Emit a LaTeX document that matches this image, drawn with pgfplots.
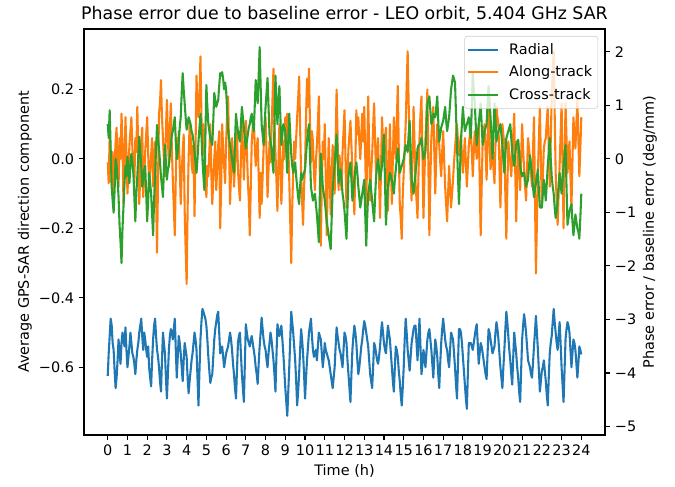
\documentclass[border=0pt]{standalone}
\usepackage{fontspec}
\setmainfont{DejaVu Sans}
\usepackage{pgfplots}
\usepackage{pgfplotstable}
\pgfplotsset{compat=1.18}

\definecolor{c0}{HTML}{1F77B4}
\definecolor{c1}{HTML}{FF7F0E}
\definecolor{c2}{HTML}{2CA02C}
\definecolor{legframe}{HTML}{CCCCCC}

% t (h), radial, along-track, cross-track components
\pgfplotstableread{
t radial along cross
0.0 -0.625 -0.01 0.10
0.05 -0.56 -0.07 0.06
0.1 -0.51 0.07 0.14
0.15 -0.46 0.01 0.03
0.2 -0.478 -0.075 -0.08
0.25 -0.53 0.02 -0.12
0.3 -0.55 -0.10 -0.155
0.35 -0.61 -0.02 -0.09
0.4 -0.66 0.05 0.00
0.45 -0.63 0.09 -0.02
0.5 -0.58 -0.04 -0.06
0.55 -0.52 -0.08 -0.11
0.6 -0.56 0.06 -0.19
0.65 -0.59 0.00 -0.24
0.7 -0.53 0.13 -0.30
0.75 -0.50 0.04 -0.20
0.8 -0.52 -0.13 -0.137
0.85 -0.54 -0.02 -0.07
0.9 -0.485 0.12 -0.02
0.95 -0.55 0.02 -0.05
1.0 -0.60 -0.10 0.006
1.05 -0.57 -0.04 -0.03
1.1 -0.54 0.04 -0.07
1.15 -0.50 0.08 -0.02
1.2 -0.53 0.12 0.015
1.25 -0.56 0.03 -0.01
1.3 -0.57 -0.02 -0.04
1.35 -0.59 -0.07 -0.11
1.4 -0.62 0.06 -0.18
1.45 -0.58 0.02 -0.10
1.5 -0.55 0.15 -0.05
1.55 -0.53 0.02 0.01
1.6 -0.50 -0.13 0.064
1.65 -0.48 -0.04 0.02
1.7 -0.46 0.05 -0.02
1.75 -0.51 0.09 -0.08
1.8 -0.55 -0.11 -0.06
1.85 -0.50 -0.05 -0.03
1.9 -0.52 0.02 -0.02
1.95 -0.55 0.07 -0.10
2.0 -0.57 0.12 -0.18
2.05 -0.54 0.02 -0.12
2.1 -0.60 -0.09 -0.04
2.15 -0.63 -0.03 -0.07
2.2 -0.655 0.01 -0.10
2.25 -0.58 0.06 -0.16
2.3 -0.52 -0.08 -0.22
2.35 -0.48 -0.02 -0.12
2.4 -0.46 0.05 -0.05
2.45 -0.51 -0.10 0.03
2.5 -0.55 -0.27 0.098
2.55 -0.57 -0.06 0.06
2.6 -0.60 0.13 0.03
2.65 -0.64 0.16 -0.01
2.7 -0.67 0.227 -0.05
2.75 -0.58 0.12 -0.08
2.8 -0.50 0.06 -0.11
2.85 -0.53 0.00 -0.03
2.9 -0.56 -0.05 0.04
2.95 -0.63 0.08 -0.01
3.0 -0.69 0.17 -0.06
3.05 -0.62 0.06 -0.03
3.1 -0.55 -0.02 -0.02
3.15 -0.51 0.09 0.01
3.2 -0.49 0.16 0.04
3.25 -0.50 0.03 0.07
3.3 -0.52 -0.06 0.08
3.35 -0.49 -0.14 0.10
3.4 -0.46 -0.22 0.12
3.45 -0.55 -0.05 0.05
3.5 -0.63 0.06 0.00
3.55 -0.57 0.00 0.02
3.6 -0.51 0.08 0.05
3.65 -0.53 -0.02 0.09
3.7 -0.56 -0.13 0.12
3.75 -0.60 -0.04 0.19
3.8 -0.64 0.02 0.247
3.85 -0.58 0.07 0.20
3.9 -0.53 -0.15 0.16
3.95 -0.55 -0.26 0.12
4.0 -0.57 -0.36 0.084
4.05 -0.63 -0.14 0.10
4.1 -0.675 0.00 0.12
4.15 -0.64 0.10 0.11
4.2 -0.61 0.07 0.10
4.25 -0.58 -0.01 0.08
4.3 -0.56 -0.04 0.07
4.35 -0.53 0.04 0.05
4.4 -0.50 -0.165 0.02
4.45 -0.52 0.03 -0.01
4.5 -0.55 0.24 -0.04
4.55 -0.63 0.15 0.00
4.6 -0.71 0.12 0.05
4.65 -0.61 0.18 0.09
4.7 -0.52 0.295 0.13
4.75 -0.47 0.12 0.07
4.8 -0.432 0.01 0.00
4.85 -0.44 0.10 -0.05
4.9 -0.45 0.06 -0.09
4.95 -0.46 -0.04 0.06
5.0 -0.48 -0.11 0.213
5.05 -0.52 -0.02 0.15
5.1 -0.57 -0.05 0.10
5.15 -0.61 0.02 0.08
5.2 -0.645 0.10 0.06
5.25 -0.63 -0.04 0.05
5.3 -0.62 -0.13 0.04
5.35 -0.57 -0.06 0.11
5.4 -0.52 0.00 0.19
5.45 -0.49 0.05 0.17
5.5 -0.47 -0.09 0.15
5.55 -0.45 -0.03 0.16
5.6 -0.44 0.04 0.17
5.65 -0.50 0.08 0.21
5.7 -0.56 -0.20 0.247
5.75 -0.55 -0.08 0.24
5.8 -0.54 0.10 0.25
5.85 -0.57 0.03 0.23
5.9 -0.60 -0.02 0.20
5.95 -0.58 -0.07 0.22
6.0 -0.56 0.05 0.20
6.05 -0.55 0.12 0.14
6.1 -0.54 0.18 0.08
6.15 -0.52 0.03 0.06
6.2 -0.50 -0.13 0.04
6.25 -0.52 -0.04 0.02
6.3 -0.55 0.06 0.00
6.35 -0.59 0.01 -0.02
6.4 -0.62 -0.08 -0.04
6.45 -0.66 -0.02 0.05
6.5 -0.69 0.04 0.13
6.55 -0.61 0.08 0.10
6.6 -0.53 -0.03 0.08
6.65 -0.51 -0.08 0.06
6.7 -0.50 -0.12 0.05
6.75 -0.56 0.00 0.10
6.8 -0.62 0.10 0.15
6.85 -0.66 0.04 0.12
6.9 -0.70 -0.06 0.09
6.95 -0.59 0.03 0.06
7.0 -0.476 0.11 0.03
7.05 -0.50 0.03 0.05
7.1 -0.52 -0.06 0.07
7.15 -0.53 -0.12 0.09
7.2 -0.54 -0.22 0.10
7.25 -0.52 -0.08 0.12
7.3 -0.51 0.05 0.13
7.35 -0.53 0.09 0.10
7.4 -0.55 0.12 0.08
7.45 -0.57 0.04 0.15
7.5 -0.60 -0.02 0.227
7.55 -0.62 0.03 0.19
7.6 -0.648 0.06 0.16
7.65 -0.59 -0.05 0.24
7.7 -0.54 -0.17 0.322
7.75 -0.50 -0.04 0.21
7.8 -0.457 -0.13 0.10
7.85 -0.49 -0.05 0.07
7.9 -0.52 0.03 0.04
7.95 -0.54 0.08 0.10
8.0 -0.55 0.12 0.15
8.05 -0.58 0.01 0.19
8.1 -0.60 -0.11 0.233
8.15 -0.56 -0.03 0.15
8.2 -0.53 0.05 0.07
8.25 -0.50 -0.01 0.05
8.3 -0.52 0.08 0.03
8.35 -0.55 0.17 -0.01
8.4 -0.58 0.26 -0.04
8.45 -0.62 0.10 0.10
8.5 -0.67 0.02 0.24
8.55 -0.57 -0.06 0.17
8.6 -0.476 -0.15 0.10
8.65 -0.49 -0.02 0.16
8.7 -0.51 0.10 0.21
8.75 -0.50 -0.01 0.12
8.8 -0.48 -0.13 0.04
8.85 -0.52 -0.04 0.07
8.9 -0.56 0.05 0.10
8.95 -0.61 0.00 0.09
9.0 -0.66 0.12 0.08
9.05 -0.70 0.05 0.02
9.1 -0.74 0.13 -0.04
9.15 -0.67 0.04 0.05
9.2 -0.60 -0.06 0.13
9.25 -0.52 -0.18 0.07
9.3 -0.44 -0.30 0.015
9.35 -0.47 -0.14 -0.02
9.4 -0.50 -0.04 -0.04
9.45 -0.54 0.05 -0.02
9.5 -0.58 0.00 -0.01
9.55 -0.64 0.06 -0.05
9.6 -0.71 0.12 -0.08
9.65 -0.67 0.17 -0.11
9.7 -0.62 0.237 -0.13
9.75 -0.55 0.09 -0.08
9.8 -0.49 -0.04 -0.04
9.85 -0.52 -0.12 -0.06
9.9 -0.56 -0.19 -0.05
9.95 -0.62 -0.08 -0.04
10.0 -0.69 -0.02 -0.03
10.05 -0.63 0.12 0.01
10.1 -0.58 0.23 0.05
10.15 -0.54 0.15 0.08
10.2 -0.50 0.26 0.10
10.25 -0.48 0.10 0.01
10.3 -0.46 -0.01 -0.08
10.35 -0.51 0.08 -0.10
10.4 -0.55 0.05 -0.12
10.45 -0.57 -0.04 -0.11
10.5 -0.56 -0.09 -0.10
10.55 -0.55 -0.01 -0.13
10.6 -0.58 0.04 -0.16
10.65 -0.54 0.10 -0.20
10.7 -0.50 0.18 -0.24
10.75 -0.51 -0.05 -0.10
10.8 -0.52 -0.25 0.015
10.85 -0.56 -0.07 -0.03
10.9 -0.60 0.05 -0.08
10.95 -0.57 0.00 -0.10
11.0 -0.53 0.10 -0.12
11.05 -0.55 -0.06 -0.15
11.1 -0.56 -0.22 -0.18
11.15 -0.57 -0.07 -0.20
11.2 -0.58 0.06 -0.22
11.25 -0.60 -0.05 -0.24
11.3 -0.62 -0.16 -0.26
11.35 -0.64 -0.05 -0.17
11.4 -0.66 0.04 -0.09
11.45 -0.63 -0.03 -0.05
11.5 -0.60 -0.10 -0.02
11.55 -0.54 0.05 0.03
11.6 -0.485 0.20 0.07
11.65 -0.51 0.06 0.00
11.7 -0.53 -0.09 -0.07
11.75 -0.55 0.01 -0.05
11.8 -0.56 -0.04 -0.03
11.85 -0.58 -0.09 -0.06
11.9 -0.60 0.02 -0.10
11.95 -0.55 0.08 -0.12
12.0 -0.50 0.14 -0.15
12.05 -0.51 0.00 -0.19
12.1 -0.53 -0.14 -0.23
12.15 -0.58 -0.05 -0.14
12.2 -0.62 0.03 -0.05
12.25 -0.66 0.07 -0.03
12.3 -0.70 0.11 -0.01
12.35 -0.62 0.04 -0.06
12.4 -0.55 -0.03 -0.12
12.45 -0.51 -0.10 -0.09
12.5 -0.48 -0.16 -0.06
12.55 -0.50 -0.01 -0.03
12.6 -0.53 0.14 -0.01
12.65 -0.58 0.07 -0.04
12.7 -0.62 0.12 -0.08
12.75 -0.60 0.05 -0.11
12.8 -0.57 0.00 -0.14
12.85 -0.54 0.07 -0.12
12.9 -0.52 0.13 -0.10
12.95 -0.49 0.05 -0.08
13.0 -0.467 0.15 -0.06
13.05 -0.48 0.01 -0.16
13.1 -0.50 -0.14 -0.25
13.15 -0.52 0.02 -0.17
13.2 -0.54 0.18 -0.10
13.25 -0.58 0.03 -0.08
13.3 -0.62 -0.12 -0.06
13.35 -0.64 -0.04 -0.09
13.4 -0.66 0.01 -0.12
13.45 -0.60 0.09 -0.15
13.5 -0.53 0.16 -0.18
13.55 -0.54 0.05 -0.11
13.6 -0.56 -0.04 -0.05
13.65 -0.58 0.02 -0.02
13.7 -0.59 0.06 0.00
13.75 -0.57 -0.06 -0.03
13.8 -0.54 -0.17 -0.06
13.85 -0.50 -0.03 -0.04
13.9 -0.47 0.12 -0.02
13.95 -0.50 0.05 0.03
14.0 -0.53 0.01 0.07
14.05 -0.55 0.06 -0.06
14.1 -0.56 0.09 -0.19
14.15 -0.52 -0.04 -0.13
14.2 -0.48 -0.15 -0.08
14.25 -0.50 -0.02 -0.06
14.3 -0.52 0.10 -0.04
14.35 -0.56 -0.02 -0.05
14.4 -0.60 -0.13 -0.06
14.45 -0.64 0.00 -0.08
14.5 -0.67 0.12 -0.10
14.55 -0.60 0.05 -0.06
14.6 -0.54 0.00 -0.03
14.65 -0.55 0.11 0.00
14.7 -0.57 0.21 0.03
14.75 -0.61 0.03 0.00
14.8 -0.64 -0.13 -0.04
14.85 -0.68 -0.17 -0.03
14.9 -0.71 -0.23 -0.02
14.95 -0.66 -0.11 -0.01
15.0 -0.60 -0.04 0.00
15.05 -0.52 0.03 0.02
15.1 -0.46 0.10 0.04
15.15 -0.50 0.21 0.03
15.2 -0.55 0.31 0.02
15.25 -0.58 0.16 0.07
15.3 -0.61 0.05 0.11
15.35 -0.57 -0.05 0.03
15.4 -0.53 -0.12 -0.06
15.45 -0.51 0.02 -0.08
15.5 -0.49 0.15 -0.10
15.55 -0.48 0.04 -0.07
15.6 -0.48 -0.07 -0.04
15.65 -0.53 -0.12 -0.01
15.7 -0.58 -0.17 0.03
15.75 -0.52 -0.04 0.04
15.8 -0.46 0.06 0.04
15.85 -0.54 0.13 0.05
15.9 -0.62 0.18 0.06
15.95 -0.59 0.01 0.03
16.0 -0.55 -0.17 0.00
16.05 -0.57 -0.05 0.01
16.1 -0.60 0.05 0.02
16.15 -0.56 0.13 0.09
16.2 -0.52 0.20 0.16
16.25 -0.50 -0.02 0.17
16.3 -0.49 -0.22 0.18
16.35 -0.52 -0.06 0.14
16.4 -0.55 0.06 0.10
16.45 -0.59 0.11 0.11
16.5 -0.63 0.15 0.13
16.55 -0.57 0.02 0.12
16.6 -0.52 -0.10 0.12
16.65 -0.54 0.01 0.15
16.7 -0.57 0.10 0.18
16.75 -0.62 0.07 0.11
16.8 -0.66 0.04 0.05
16.85 -0.59 -0.01 0.07
16.9 -0.53 -0.05 0.09
16.95 -0.49 0.02 0.10
17.0 -0.46 0.08 0.11
17.05 -0.49 0.00 0.13
17.1 -0.52 -0.08 0.15
17.15 -0.54 -0.13 0.11
17.2 -0.55 -0.18 0.08
17.25 -0.58 -0.10 0.10
17.3 -0.60 -0.02 0.12
17.35 -0.55 -0.08 0.16
17.4 -0.50 -0.14 0.20
17.45 -0.51 -0.10 0.22
17.5 -0.52 -0.06 0.24
17.55 -0.56 -0.01 0.23
17.6 -0.60 0.03 0.22
17.65 -0.65 0.07 0.13
17.7 -0.69 0.10 0.04
17.75 -0.59 0.05 -0.05
17.8 -0.49 0.01 -0.13
17.85 -0.49 0.04 -0.04
17.9 -0.50 0.07 0.05
17.95 -0.53 0.01 0.10
18.0 -0.57 -0.04 0.15
18.05 -0.61 0.01 0.11
18.1 -0.65 0.06 0.08
18.15 -0.69 -0.01 0.09
18.2 -0.72 -0.08 0.10
18.25 -0.62 -0.02 0.11
18.3 -0.53 0.04 0.12
18.35 -0.53 0.07 0.09
18.4 -0.53 0.09 0.06
18.45 -0.54 0.02 0.15
18.5 -0.55 -0.05 0.25
18.55 -0.53 0.02 0.20
18.6 -0.51 0.08 0.16
18.65 -0.49 0.04 0.10
18.7 -0.476 0.00 0.04
18.75 -0.53 0.05 0.07
18.8 -0.59 0.10 0.10
18.85 -0.56 -0.06 0.13
18.9 -0.53 -0.22 0.16
18.95 -0.54 -0.08 0.10
19.0 -0.56 0.05 0.04
19.05 -0.58 0.08 0.06
19.1 -0.60 0.10 0.08
19.15 -0.62 0.02 0.09
19.2 -0.634 -0.06 0.10
19.25 -0.56 0.05 0.16
19.3 -0.49 0.15 0.21
19.35 -0.50 0.06 0.17
19.4 -0.52 -0.03 0.12
19.45 -0.54 0.00 0.06
19.5 -0.56 0.02 0.00
19.55 -0.55 -0.03 0.08
19.6 -0.54 -0.07 0.16
19.65 -0.50 0.04 0.11
19.7 -0.47 0.15 0.05
19.75 -0.49 0.12 0.07
19.8 -0.52 0.10 0.08
19.85 -0.56 -0.02 0.09
19.9 -0.60 -0.14 0.10
19.95 -0.63 -0.02 0.07
20.0 -0.66 0.10 0.04
20.05 -0.60 0.07 0.00
20.1 -0.55 0.04 -0.04
20.15 -0.49 -0.10 0.01
20.2 -0.44 -0.23 0.06
20.25 -0.47 -0.09 0.07
20.3 -0.51 0.05 0.08
20.35 -0.55 0.02 0.09
20.4 -0.58 -0.01 0.10
20.45 -0.62 -0.05 0.06
20.5 -0.65 0.01 0.02
20.55 -0.57 0.07 0.00
20.6 -0.50 0.13 -0.02
20.65 -0.53 -0.03 0.01
20.7 -0.56 -0.18 0.04
20.75 -0.60 -0.06 0.05
20.8 -0.63 0.05 0.055
20.85 -0.67 -0.02 0.02
20.9 -0.70 -0.09 -0.02
20.95 -0.61 0.01 -0.04
21.0 -0.52 0.10 -0.05
21.05 -0.48 0.03 -0.04
21.1 -0.447 -0.03 -0.04
21.15 -0.47 -0.08 -0.06
21.2 -0.50 -0.12 -0.08
21.25 -0.54 -0.03 -0.07
21.3 -0.58 0.06 -0.06
21.35 -0.59 0.03 -0.02
21.4 -0.60 0.00 0.01
21.45 -0.62 -0.04 -0.02
21.5 -0.63 -0.08 -0.04
21.55 -0.59 0.02 -0.08
21.6 -0.54 0.12 -0.11
21.65 -0.50 -0.10 -0.09
21.7 -0.452 -0.33 -0.07
21.75 -0.50 -0.18 -0.05
21.8 -0.55 -0.04 -0.03
21.85 -0.61 0.06 -0.09
21.9 -0.67 0.15 -0.14
21.95 -0.64 0.00 -0.14
22.0 -0.61 -0.14 -0.14
22.05 -0.60 -0.05 -0.10
22.1 -0.58 0.03 -0.06
22.15 -0.61 0.05 -0.09
22.2 -0.64 0.06 -0.12
22.25 -0.68 0.11 -0.07
22.3 -0.71 0.15 -0.02
22.35 -0.63 0.03 0.02
22.4 -0.56 -0.08 0.06
22.45 -0.53 0.05 0.00
22.5 -0.51 0.18 -0.05
22.55 -0.47 0.25 -0.08
22.6 -0.432 0.31 -0.10
22.65 -0.47 0.13 -0.14
22.7 -0.50 -0.04 -0.17
22.75 -0.53 -0.12 -0.15
22.8 -0.55 -0.19 -0.12
22.85 -0.51 -0.10 -0.08
22.9 -0.47 -0.02 -0.04
22.95 -0.53 0.07 -0.07
23.0 -0.60 0.16 -0.10
23.05 -0.65 -0.02 -0.06
23.1 -0.70 -0.20 -0.02
23.15 -0.61 -0.02 0.01
23.2 -0.52 0.16 0.04
23.25 -0.49 0.06 -0.08
23.3 -0.47 -0.04 -0.19
23.35 -0.48 0.01 -0.17
23.4 -0.50 0.05 -0.15
23.45 -0.55 -0.05 -0.14
23.5 -0.60 -0.14 -0.13
23.55 -0.56 -0.01 -0.18
23.6 -0.52 0.12 -0.22
23.65 -0.53 0.07 -0.19
23.7 -0.55 0.03 -0.16
23.75 -0.59 0.10 -0.18
23.8 -0.63 0.17 -0.20
23.85 -0.59 0.06 -0.21
23.9 -0.54 -0.05 -0.23
23.95 -0.55 0.03 -0.17
24.0 -0.563 0.12 -0.10
}\baselinedata

\pgfplotsset{
  mplbase/.style={
    scale only axis, width=375.1pt, height=292.3pt,
    xmin=-1.2, xmax=25.2,
    tick align=outside,
    major tick length=3.5pt,
    every tick/.style={black, line width=0.8pt},
    axis line style={black, line width=0.8pt},
    /pgf/number format/assume math mode=true,
    tick label style={font=\fontsize{10.4}{12.5}\selectfont},
    label style={font=\fontsize{10.4}{12.5}\selectfont},
  },
}

\begin{document}
\fontsize{10.4}{12.5}\selectfont
\begin{tikzpicture}
\begin{axis}[
  mplbase,
  name=main,
  ymin=-0.795, ymax=0.374,
  tick pos=left,
  xtick={0,...,24},
  ytick={-0.6,-0.4,-0.2,0,0.2},
  yticklabels={−0.6,−0.4,−0.2,0.0,0.2},
  xlabel={Time (h)},
  ylabel={Average GPS-SAR direction component},
  xlabel style={at={(axis description cs:0.5,-0.089)}, anchor=center},
  ylabel style={at={(axis description cs:-0.1133,0.5)}, anchor=center},
  title={Phase error due to baseline error - LEO orbit, 5.404 GHz SAR},
  title style={at={(axis description cs:0.5,1)}, anchor=base, yshift=0.5pt,
    font=\fontsize{12.5}{15}\selectfont},
  legend style={at={(axis description cs:1,1)}, anchor=north east,
    xshift=-5pt, yshift=-5pt, draw=legframe,
    fill=white, fill opacity=0.8, text opacity=1, rounded corners=2pt,
    font=\fontsize{10.4}{12.5}\selectfont, cells={anchor=west},
    inner xsep=2pt, inner ysep=3pt, row sep=2.8pt, column sep=5pt},
  legend image code/.code={\draw[#1, line width=1.5pt] (0pt,0pt) -- (21.6pt,0pt);},
  every axis plot/.append style={line width=1.5pt, line join=round},
]
\addplot[c0] table[x=t, y=radial] {\baselinedata};
\addlegendentry{Radial}
\addplot[c1] table[x=t, y=along] {\baselinedata};
\addlegendentry{Along-track}
\addplot[c2] table[x=t, y=cross] {\baselinedata};
\addlegendentry{Cross-track}
\end{axis}
% right-hand scale: phase error per unit baseline error (360/lambda deg/mm)
\begin{axis}[
  mplbase,
  axis x line=none,
  axis y line*=right,
  ymin=-5.159, ymax=2.427,
  ytick={-5,-4,-3,-2,-1,0,1,2},
  yticklabels={−5,−4,−3,−2,−1,0,1,2},
  ylabel={Phase error / baseline error (deg/mm)},
  ylabel style={at={(axis description cs:1.0864,0.5)}, anchor=center, rotate=0},
]
\addplot[draw=none, forget plot] coordinates {(0,0)};
\end{axis}
\pgfresetboundingbox
\path[use as bounding box] ([xshift=-60.5pt,yshift=-37.4pt]main.south west)
  rectangle ([xshift=50.4pt,yshift=20.9pt]main.north east);
\end{tikzpicture}
\end{document}
